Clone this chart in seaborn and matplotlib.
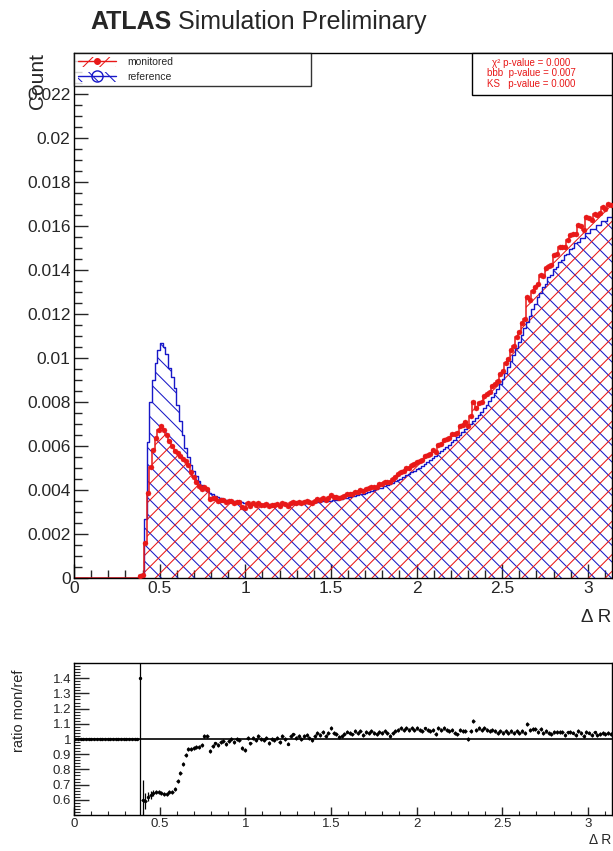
import numpy as np
import pandas as pd
import matplotlib
matplotlib.use("Agg")
import matplotlib.pyplot as plt
import seaborn as sns
from matplotlib.patches import Patch, Rectangle
from matplotlib.lines import Line2D
from matplotlib.ticker import MultipleLocator, FixedLocator, FuncFormatter

# ---------------- data ----------------
N_BINS = 200
X_MIN, X_MAX = 0.0, np.pi
FIRST_FILLED_BIN = 24          # bins below this are empty in both histograms
SCALE = 1e-5                   # values below are in units of 1e-5

# reference histogram (blue), bins 24..199
reference = [
    5, 20, 270, 620, 800, 900,
    975, 1035, 1068, 1052, 1018, 955, 915, 862, 785, 715,
    648, 592, 550, 515, 488, 462, 440, 423, 405, 396,
    388, 380, 373, 367, 362, 358, 355, 352, 350, 348,
    347, 348, 345, 342, 339, 338, 336, 335, 336, 334,
    334, 333, 335, 334, 333, 334, 333, 335, 336, 336,
    336, 337, 338, 339, 339, 340, 341, 342, 343, 344,
    345, 346, 348, 349, 350, 352, 354, 356, 359, 361,
    363, 365, 368, 371, 374, 377, 380, 383, 387, 391,
    395, 399, 403, 407, 411, 416, 421, 427, 433, 439,
    445, 452, 459, 466, 473, 480, 487, 494, 502, 511,
    520, 529, 538, 547, 556, 566, 576, 586, 596, 606,
    617, 628, 640, 652, 664, 676, 689, 702, 715, 728,
    742, 756, 771, 787, 804, 822, 841, 861, 882, 905,
    930, 957, 985, 1014, 1044, 1074, 1104, 1134, 1163, 1192,
    1222, 1244, 1276, 1293, 1324, 1338, 1367, 1378, 1404, 1413,
    1437, 1444, 1466, 1471, 1494, 1501, 1521, 1525, 1544, 1547,
    1566, 1568, 1586, 1588, 1605, 1606, 1623, 1624, 1640, 1640,
]

# monitored histogram (red), bins 24..199
monitored = [
    7, 12, 160, 385, 505, 580,
    635, 672, 690, 674, 652, 622, 598, 578, 570, 555,
    540, 530, 515, 482, 460, 437, 416, 406, 413, 404,
    357, 362, 362, 352, 355, 354, 344, 348, 350, 341,
    346, 345, 324, 317, 342, 328, 339, 332, 342, 334,
    331, 336, 327, 334, 330, 337, 327, 342, 335, 326,
    343, 347, 341, 345, 339, 347, 351, 345, 340, 351,
    359, 356, 365, 356, 364, 377, 368, 367, 363, 368,
    374, 383, 383, 382, 393, 392, 399, 394, 406, 407,
    415, 415, 415, 427, 427, 437, 438, 436, 450, 461,
    472, 484, 487, 499, 501, 514, 516, 529, 532, 537,
    556, 561, 565, 580, 573, 606, 611, 627, 632, 636,
    654, 653, 659, 691, 697, 710, 689, 737, 801, 772,
    794, 801, 825, 834, 844, 871, 883, 895, 926, 941,
    977, 995, 1034, 1055, 1096, 1117, 1159, 1179, 1279, 1264,
    1305, 1322, 1337, 1375, 1373, 1409, 1418, 1423, 1470, 1474,
    1505, 1506, 1506, 1534, 1561, 1565, 1563, 1605, 1602, 1582,
    1640, 1635, 1629, 1656, 1649, 1658, 1684, 1677, 1701, 1693,
]

# ratio uncertainties: first filled bins, then typical value
ratio_err_onset = [1.3, 0.13, 0.05, 0.03, 0.025, 0.02]
ratio_err_bulk = 0.013

main_yticks = [0, 0.002, 0.004, 0.006, 0.008, 0.01, 0.012, 0.014,
               0.016, 0.018, 0.02, 0.022]
ratio_yticks = [0.6, 0.7, 0.8, 0.9, 1.0, 1.1, 1.2, 1.3, 1.4]
xticks = [0, 0.5, 1, 1.5, 2, 2.5, 3]
stat_lines = ["χ² p-value = 0.000", "bbb  p-value = 0.007",
              "KS   p-value = 0.000"]

# ---------------- derived arrays ----------------
edges = np.linspace(X_MIN, X_MAX, N_BINS + 1)
centers = 0.5 * (edges[:-1] + edges[1:])
half_w = 0.5 * (edges[1] - edges[0])
ref_full = np.zeros(N_BINS)
mon_full = np.zeros(N_BINS)
ref_full[FIRST_FILLED_BIN:] = np.array(reference) * SCALE
mon_full[FIRST_FILLED_BIN:] = np.array(monitored) * SCALE
filled = ref_full > 0
ratio = np.ones(N_BINS)
ratio[filled] = mon_full[filled] / ref_full[filled]
ratio_err = np.zeros(N_BINS)
ratio_err[FIRST_FILLED_BIN:] = ratio_err_bulk
ratio_err[FIRST_FILLED_BIN:FIRST_FILLED_BIN + len(ratio_err_onset)] = ratio_err_onset

df = pd.DataFrame({"dR": centers, "ref": ref_full, "mon": mon_full,
                   "ratio": ratio})

# ---------------- style ----------------
sns.set_style("ticks")
plt.rcParams["font.family"] = ["Liberation Sans", "DejaVu Sans"]
plt.rcParams["hatch.linewidth"] = 0.75

RED = "#e81818"
BLUE = "#1818c8"
W, H = 613, 851

fig = plt.figure(figsize=(W / 100, H / 100), dpi=100)
ax = fig.add_axes([74 / W, 1 - 578 / H, (612 - 74) / W, (578 - 53) / H])
rax = fig.add_axes([74 / W, 1 - 815 / H, (612 - 74) / W, (815 - 663) / H])

# ---------------- main panel ----------------
ax.stairs(ref_full, edges, fill=True, facecolor="none", edgecolor=BLUE,
          hatch="\\\\", linewidth=0, zorder=1)
ax.stairs(mon_full, edges, fill=True, facecolor="none", edgecolor=RED,
          hatch="//", linewidth=0, zorder=1.1)
sns.histplot(data=df, x="dR", weights="ref", bins=N_BINS,
             binrange=(X_MIN, X_MAX), element="step", fill=False,
             color=BLUE, linewidth=1.0, ax=ax, zorder=2)
ax.stairs(mon_full, edges, color=RED, linewidth=1.1, baseline=None, zorder=2.5)
sns.scatterplot(data=df[filled], x="dR", y="mon", color=RED, s=13,
                edgecolor=RED, linewidth=0.3, ax=ax, zorder=3)

ax.set_xlim(X_MIN, X_MAX)
ax.set_ylim(0, 0.02386)
ax.set_xlabel("")
ax.set_ylabel("")
ax.xaxis.set_major_locator(FixedLocator(xticks))
ax.xaxis.set_minor_locator(MultipleLocator(0.1))
ax.yaxis.set_major_locator(FixedLocator(main_yticks))
ax.yaxis.set_minor_locator(MultipleLocator(0.0005))
fmt = FuncFormatter(lambda v, p: f"{v:g}")
ax.xaxis.set_major_formatter(fmt)
ax.yaxis.set_major_formatter(fmt)
ax.tick_params(axis="both", which="major", direction="in", length=10,
               width=1, labelsize=12.5, pad=2.5)
ax.tick_params(axis="both", which="minor", direction="in", length=6, width=1)
for s in ax.spines.values():
    s.set_linewidth(1.0)
    s.set_color("black")

# legend
leg_handles = [
    (Patch(facecolor="none", edgecolor=RED, hatch="//", linewidth=0),
     Line2D([], [], color=RED, marker="o", markersize=4, linewidth=1)),
    (Patch(facecolor="none", edgecolor=BLUE, hatch="\\\\", linewidth=0),
     Line2D([], [], color=BLUE, marker="o", markerfacecolor="none",
            markersize=8, linewidth=1)),
]
leg = ax.legend(leg_handles, ["monitored", "reference"], loc="upper left",
                bbox_to_anchor=(0, 1, (311 - 74) / (612 - 74), 0),
                mode="expand", borderaxespad=0, fontsize=7.5, frameon=True,
                fancybox=False, handlelength=3.7, handleheight=1.1,
                labelspacing=0.45, borderpad=0.35, handletextpad=1.1)
leg.get_frame().set_edgecolor("black")
leg.get_frame().set_linewidth(1.0)

# stats box
fig.patches.append(Rectangle((472 / W, 1 - 95 / H), (612 - 472) / W, 42 / H,
                             transform=fig.transFigure, facecolor="white",
                             edgecolor="black", linewidth=1.0, zorder=5))
for i, line in enumerate(stat_lines):
    fig.text(531 / W, 1 - (63 + 10.5 * i) / H, line, color=RED, fontsize=7,
             ha="center", va="center", zorder=6)

fig.text(38 / W, 1 - 53 / H, "Count", rotation=90, ha="center", va="top",
         fontsize=15)
fig.text(611 / W, 1 - 617 / H, "Δ R", ha="right", va="center", fontsize=13.5)

# title
t1 = fig.text(90 / W, 1 - 22 / H, "ATLAS", fontweight="bold", fontsize=18,
              ha="left", va="center")
renderer = fig.canvas.get_renderer()
bb = t1.get_window_extent(renderer)
fig.text((bb.x1 + 7) / W, 1 - 22 / H, "Simulation Preliminary", fontsize=18,
         ha="left", va="center")

# ---------------- ratio panel ----------------
rax.axhline(1.0, color="black", linewidth=1.2, zorder=1)
rax.errorbar(centers, ratio, yerr=ratio_err, xerr=half_w, fmt="none",
             ecolor="black", elinewidth=0.9, capsize=0, zorder=2)
sns.scatterplot(data=df, x="dR", y="ratio", color="black", s=6, linewidth=0,
                ax=rax, zorder=3)
rax.set_xlim(X_MIN, X_MAX)
rax.set_ylim(0.5, 1.5)
rax.set_xlabel("")
rax.set_ylabel("")
rax.xaxis.set_major_locator(FixedLocator(xticks))
rax.xaxis.set_minor_locator(MultipleLocator(0.1))
rax.yaxis.set_major_locator(FixedLocator(ratio_yticks))
rax.yaxis.set_minor_locator(MultipleLocator(0.02))
rax.xaxis.set_major_formatter(fmt)
rax.yaxis.set_major_formatter(fmt)
rax.tick_params(axis="y", which="major", direction="in", length=11,
                width=1, labelsize=9.5, pad=2)
rax.tick_params(axis="x", which="major", direction="in", length=5.5,
                width=1, labelsize=9.5, pad=2.5)
rax.tick_params(axis="y", which="minor", direction="in", length=4.5, width=0.8)
rax.tick_params(axis="x", which="minor", direction="in", length=3, width=0.8)
for s in rax.spines.values():
    s.set_linewidth(1.0)
    s.set_color("black")

fig.text(19 / W, 1 - 670 / H, "ratio mon/ref", rotation=90, ha="center",
         va="top", fontsize=10.5)
fig.text(611 / W, 1 - 840 / H, "Δ R", ha="right", va="center", fontsize=10)

fig.savefig("out.png", dpi=100)
